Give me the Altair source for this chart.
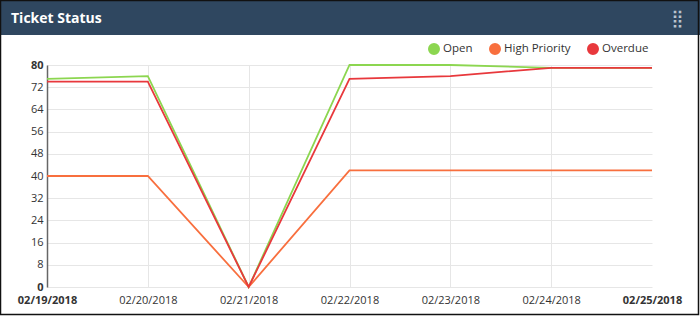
import altair as alt
import pandas as pd

dates = ["02/19/2018", "02/20/2018", "02/21/2018", "02/22/2018",
         "02/23/2018", "02/24/2018", "02/25/2018"]
open_vals = [75, 76, 0, 80, 80, 79, 79]
high_vals = [40, 40, 0, 42, 42, 42, 42]
overdue_vals = [74, 74, 0, 75, 76, 79, 79]
series = ["Open", "High Priority", "Overdue"]
colors = ["#8CD650", "#F86F3E", "#E8383C"]
y_ticks = [0, 8, 16, 24, 32, 40, 48, 56, 64, 72, 80]

rows = []
for name, vals in zip(series, [open_vals, high_vals, overdue_vals]):
    for d, v in zip(dates, vals):
        rows.append({"date": d, "value": v, "series": name})
df = pd.DataFrame(rows)
one = pd.DataFrame({"k": [0]})

FONT = "Open Sans"

header = alt.Chart(one).mark_rect(color="#2F4760").encode(
    x=alt.value(-47), x2=alt.value(653), y=alt.value(-65), y2=alt.value(-30)
)
border = alt.Chart(one).mark_rect(fillOpacity=0, stroke="#111111", strokeWidth=1.5).encode(
    x=alt.value(-46.5), x2=alt.value(651.5), y=alt.value(-64.5), y2=alt.value(249.5)
)
title = alt.Chart(one).mark_text(
    text="Ticket Status", color="white", fontSize=14, fontWeight="bold",
    font=FONT, align="left", baseline="alphabetic"
).encode(x=alt.value(-36), y=alt.value(-42))
dots = alt.Chart(one).mark_text(
    text="\u28ff", color="#b9c3cd", fontSize=17, font="DejaVu Sans",
    align="center", baseline="middle"
).encode(x=alt.value(630.5), y=alt.value(-46.5))

bold_x = "datum.value == '02/19/2018' || datum.value == '02/25/2018' ? 'bold' : 'normal'"
bold_y = "datum.value == 0 || datum.value == 80 ? 'bold' : 'normal'"

lines = alt.Chart(df).mark_line(strokeWidth=1.8).encode(
    x=alt.X("date:O", sort=dates, scale=alt.Scale(type="point", padding=0),
            axis=alt.Axis(title=None, labelAngle=0, domain=False, ticks=False,
                          labelPadding=7, labelFontSize=11, labelFont=FONT,
                          labelColor="#333333", labelFontWeight=alt.expr(bold_x),
                          gridColor="#e6e6e6", grid=True,
                          gridOpacity=alt.expr("datum.value == '02/25/2018' ? 0 : 1"),
                          labelOverlap=False)),
    y=alt.Y("value:Q", scale=alt.Scale(domain=[0, 80], nice=False),
            axis=alt.Axis(title=None, values=y_ticks, ticks=False, labelPadding=4,
                          labelFontSize=11, labelFont=FONT, labelColor="#333333",
                          labelFontWeight=alt.expr(bold_y), domainColor="#666666",
                          domainWidth=1.5, gridColor="#e6e6e6", labelFlush=False,
                          labelOverlap=False)),
    color=alt.Color("series:N", sort=series,
                    scale=alt.Scale(domain=series, range=colors),
                    legend=alt.Legend(title=None, orient="none", legendX=381, legendY=-22,
                                      direction="horizontal", symbolType="circle",
                                      symbolSize=36, symbolStrokeWidth=6,
                                      labelFontSize=11.5, labelFont=FONT,
                                      labelColor="#333333", columnPadding=7,
                                      labelOffset=3)),
)

chart = alt.layer(header, border, title, dots, lines).properties(
    width=605, height=222,
    autosize=alt.AutoSizeParams(type="none"),
    padding={"left": 47, "top": 65, "right": 48, "bottom": 29},
    background="white",
).configure_view(strokeWidth=0)

chart.save("out.html", embed_options={"renderer": "svg", "actions": False})
